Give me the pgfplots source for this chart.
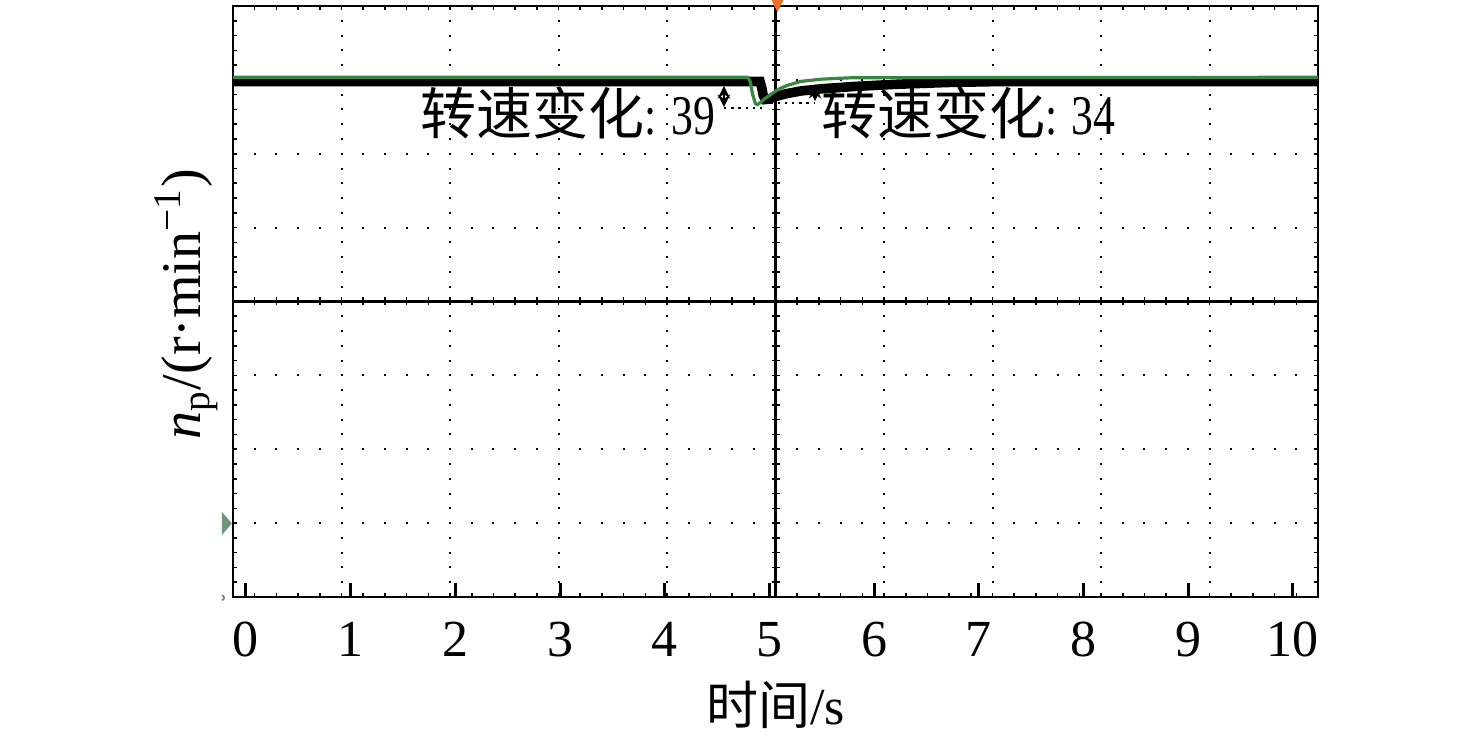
\documentclass[border=0pt]{standalone}
\usepackage{pgfplots}
\pgfplotsset{compat=1.18}
\usepackage{pgfplotstable}
\usepackage{fontspec}
\setmainfont{Liberation Serif}
\newfontfamily\cjk{Noto Sans CJK SC}
\definecolor{trgreen}{RGB}{55,135,65}
\definecolor{markorange}{RGB}{235,110,40}
\definecolor{markgreen}{RGB}{110,150,120}

% speed traces, x in s, y in screen divisions
\pgfplotstableread{
t     y
-0.124 6.978
4.910 6.978
4.925 6.900
4.940 6.790
4.960 6.735
4.990 6.740
5.050 6.770
5.150 6.810
5.300 6.850
5.500 6.880
5.800 6.910
6.200 6.940
6.700 6.965
7.200 6.978
10.24 6.978
}\blacktrace

\pgfplotstableread{
t     y
-0.124 7.035
4.790 7.035
4.815 6.980
4.840 6.800
4.865 6.680
4.885 6.665
4.910 6.690
4.950 6.740
5.000 6.790
5.080 6.870
5.170 6.925
5.300 6.980
5.500 7.010
5.800 7.030
10.24 7.035
}\greentrace

\begin{document}
\begin{tikzpicture}
\path[use as bounding box] (-58.25pt,-34.75pt) rectangle (310.75pt,149.25pt);

% scope grid
\foreach \k in {1,2,3,4,6,7,8,9}
  \draw[line width=0.5pt, dash pattern=on 0.5pt off 3.19375pt, dash phase=0.25pt]
    (\k*27.125pt,0) -- (\k*27.125pt,147.75pt);
\foreach \k in {1,2,3,5,6,7}
  \draw[line width=0.5pt, dash pattern=on 0.5pt off 4.925pt, dash phase=0.25pt]
    (0,\k*18.46875pt) -- (271.25pt,\k*18.46875pt);
\draw[line width=0.7pt] (135.625pt,0) -- (135.625pt,147.75pt);
\draw[line width=0.7pt] (0,73.875pt) -- (271.25pt,73.875pt);
\foreach \k in {1,...,49} {
  \draw[line width=0.4pt] (\k*5.425pt,72.875pt) -- (\k*5.425pt,74.875pt);
  \draw[line width=0.4pt] (\k*5.425pt,0) -- ++(0,1pt);
  \draw[line width=0.4pt] (\k*5.425pt,147.75pt) -- ++(0,-1pt);
}
\foreach \k in {1,...,39} {
  \draw[line width=0.4pt] (134.625pt,\k*3.69375pt) -- (136.625pt,\k*3.69375pt);
  \draw[line width=0.4pt] (0,\k*3.69375pt) -- ++(1pt,0);
  \draw[line width=0.4pt] (271.25pt,\k*3.69375pt) -- ++(-1pt,0);
}

\begin{axis}[
    at={(0pt,0pt)}, anchor=south west,
    scale only axis,
    width=271.25pt, height=147.75pt,
    xmin=-0.124, xmax=10.239,
    ymin=0, ymax=8,
    xtick={0,1,2,3,4,5,6,7,8,9,10},
    ytick=\empty,
    xtick pos=bottom,
    tick align=inside,
    major tick length=3.5pt,
    tick style={line width=0.75pt, black},
    axis line style={line width=0.65pt},
    /pgf/number format/assume math mode=true,
    xticklabel style={font=\fontsize{13}{13}\selectfont, anchor=base, yshift=-15pt},
    xlabel={{\cjk 时间}/s},
    xlabel style={font=\fontsize{13}{13}\selectfont, at={(axis description cs:0.5,-0.182)}, anchor=center},
    ylabel={\textit{n}\textsubscript{p}/(r·min\textsuperscript{−1})},
    ylabel style={font=\fontsize{14}{14}\selectfont, at={(axis description cs:-0.0433,0.495)}, anchor=center},
]

\addplot[black, line width=2.4pt] table[x=t, y=y] {\blacktrace};
\addplot[trgreen, line width=0.8pt] table[x=t, y=y] {\greentrace};

% annotations
\draw[<->, >=stealth, line width=0.4pt] (axis cs:4.565,6.917) -- (axis cs:4.565,6.633);
\draw[line width=0.6pt, dash pattern=on 0.6pt off 1.2pt] (axis cs:4.565,6.619) -- (axis cs:4.96,6.619);
\draw[<->, >=stealth, line width=0.4pt] (axis cs:5.435,6.917) -- (axis cs:5.435,6.714);
\draw[line width=0.6pt, dash pattern=on 0.6pt off 1.2pt] (axis cs:4.94,6.69) -- (axis cs:5.435,6.69);
\node[font=\fontsize{14}{14}\selectfont, inner sep=0pt] at (axis cs:3.075,6.558)
  {{\cjk 转速变化}\scalebox{0.78}[1]{: 39}};
\node[font=\fontsize{14}{14}\selectfont, inner sep=0pt] at (axis cs:6.90,6.558)
  {{\cjk 转速变化}\scalebox{0.78}[1]{: 34}};
\end{axis}

% scope markers
\fill[markorange] (134.6pt,149.25pt) -- (137.6pt,149.25pt) -- (136.1pt,146.2pt) -- cycle;
\fill[markgreen] (-2.75pt,15.5pt) -- (-2.75pt,21.25pt) -- (-0.3pt,18.4pt) -- cycle;
\draw[gray, line width=0.4pt] (-2.8pt,0.4pt) arc[start angle=90, end angle=-90, radius=0.6pt];
\end{tikzpicture}
\end{document}
